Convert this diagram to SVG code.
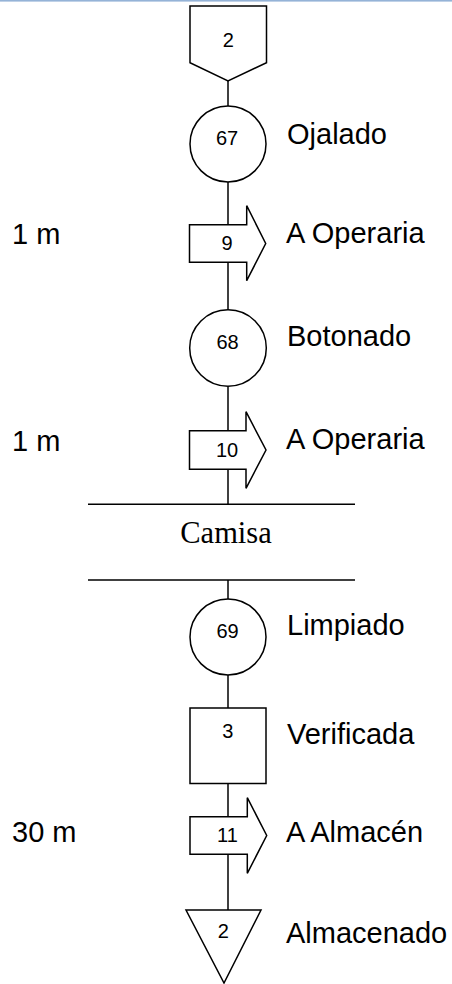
<svg xmlns="http://www.w3.org/2000/svg" width="452" height="984" viewBox="0 0 452 984">
  <style>
    .shape { fill: #ffffff; stroke: #000000; stroke-width: 1.5; stroke-linejoin: miter; }
    .conn line { stroke: #000000; stroke-width: 1.5; }
    .num { font-family: "Liberation Sans", Arial, sans-serif; font-size: 20px; fill: #000000; text-anchor: middle; }
    .label { font-family: "Liberation Sans", Arial, sans-serif; font-size: 29px; fill: #000000; }
    .title { font-family: "Liberation Serif", "Times New Roman", serif; font-size: 30.5px; fill: #000000; text-anchor: middle; }
  </style>

  <!-- page edge -->
  <rect x="0" y="0" width="452" height="1.6" fill="#95b3d7"/>

  <!-- vertical flow connectors -->
  <g id="connectors" class="conn">
    <line x1="228" y1="81" x2="228" y2="106"/>
    <line x1="228" y1="182" x2="228" y2="224.7"/>
    <line x1="228" y1="262.3" x2="228" y2="309.7"/>
    <line x1="228" y1="386.3" x2="228" y2="430.7"/>
    <line x1="228" y1="469.3" x2="228" y2="504.3"/>
    <line x1="228" y1="580" x2="228" y2="599"/>
    <line x1="228" y1="675" x2="228" y2="708"/>
    <line x1="228" y1="783.5" x2="228" y2="816.7"/>
    <line x1="228" y1="854.3" x2="228" y2="910"/>
  </g>

  <!-- off-page connector 2 -->
  <g id="connector-2">
    <polygon class="shape" points="190,6 266.5,6 266.5,62.7 228,81 190,62.7"/>
    <text class="num" x="228.3" y="46.5">2</text>
  </g>

  <!-- operation 67 -->
  <g id="op-67">
    <circle class="shape" cx="228" cy="144" r="38"/>
    <text class="num" x="227" y="145">67</text>
    <text class="label" x="287" y="144">Ojalado</text>
  </g>

  <!-- transport 9 -->
  <g id="transport-9">
    <polygon class="shape" points="189.5,224.7 246.7,224.7 246.7,205.7 265.7,243.5 246.7,280.7 246.7,262.3 189.5,262.3"/>
    <text class="num" x="227" y="250">9</text>
    <text class="label" x="12" y="244">1 m</text>
    <text class="label" x="286" y="243">A Operaria</text>
  </g>

  <!-- operation 68 -->
  <g id="op-68">
    <circle class="shape" cx="228" cy="348" r="38.3"/>
    <text class="num" x="227.5" y="348.5">68</text>
    <text class="label" x="287" y="346">Botonado</text>
  </g>

  <!-- transport 10 -->
  <g id="transport-10">
    <polygon class="shape" points="189.5,430.7 246,430.7 246,411.7 266,450 246,488.3 246,469.3 189.5,469.3"/>
    <text class="num" x="227" y="457">10</text>
    <text class="label" x="12" y="451">1 m</text>
    <text class="label" x="286" y="448.5">A Operaria</text>
  </g>

  <!-- assembly separator -->
  <g id="section-camisa">
    <line x1="88" y1="504.3" x2="355" y2="504.3" stroke="#000000" stroke-width="1.5"/>
    <line x1="88" y1="580" x2="355" y2="580" stroke="#000000" stroke-width="1.5"/>
    <text class="title" x="226" y="543">Camisa</text>
  </g>

  <!-- operation 69 -->
  <g id="op-69">
    <circle class="shape" cx="228" cy="637" r="38"/>
    <text class="num" x="227.5" y="638.3">69</text>
    <text class="label" x="287" y="635">Limpiado</text>
  </g>

  <!-- inspection 3 -->
  <g id="insp-3">
    <rect class="shape" x="190" y="708" width="76" height="75.5"/>
    <text class="num" x="227.7" y="737.7">3</text>
    <text class="label" x="287" y="744">Verificada</text>
  </g>

  <!-- transport 11 -->
  <g id="transport-11">
    <polygon class="shape" points="190,816.7 247.3,816.7 247.3,797.7 266.7,835.5 247.3,873.3 247.3,854.3 190,854.3"/>
    <text class="num" x="227.5" y="842">11</text>
    <text class="label" x="12" y="842">30 m</text>
    <text class="label" x="286" y="842">A Almacén</text>
  </g>

  <!-- storage 2 -->
  <g id="storage-2">
    <polygon class="shape" points="186,910 261,910 224,983"/>
    <text class="num" x="223.3" y="938.3">2</text>
    <text class="label" x="286" y="943.3">Almacenado</text>
  </g>
</svg>
